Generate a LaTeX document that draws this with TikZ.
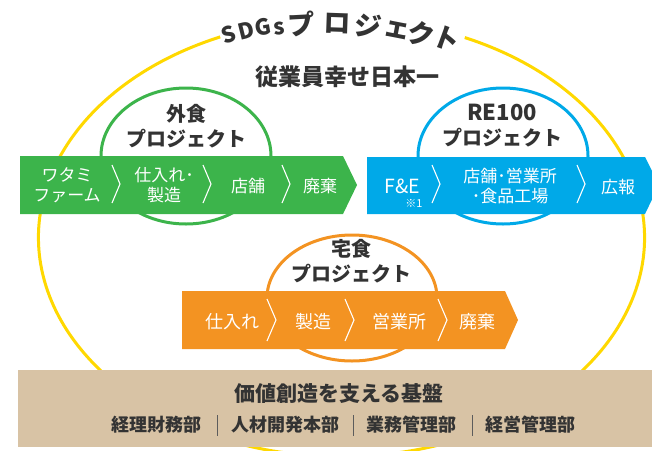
\documentclass[tikz,border=0pt]{standalone}
\usepackage{fontspec}
\setmainfont{Noto Sans CJK JP}
\usetikzlibrary{shapes.geometric}
\definecolor{ringyellow}{HTML}{FFD800}
\definecolor{gaigreen}{HTML}{3CB44B}
\definecolor{reblue}{HTML}{00A9E8}
\definecolor{takuorange}{HTML}{F39322}
\definecolor{basebeige}{HTML}{D8C3A5}
\definecolor{ink}{HTML}{333333}
\begin{document}
\begin{tikzpicture}[x=1pt,y=-1pt]
\tikzstyle{every node}+=[inner sep=0pt]
\tikzstyle{ring}=[ellipse, line width=3pt, fill=white, minimum width=170, minimum height=136]
\tikzstyle{heading}=[text=ink, align=center, font=\bfseries\fontsize{20}{25}\selectfont]
\tikzstyle{stage}=[text=white, align=center, font=\fontsize{17}{20}\selectfont]
\tikzstyle{chev}=[white, line width=1.1pt]
\useasboundingbox (0,0) rectangle (652,450);

% SDGs ring, open at the top for its title
\draw [ringyellow, line width=3pt] (341.5,237.6) ++(294:303 and 219)
  arc [start angle=294, end angle=606.4, x radius=303, y radius=219];
\foreach \ch/\px/\py/\rot/\sz [count=\i] in {S/229/35/18/22, D/246/31/14/22, G/263/27/10/22,
    s/279/29/7/22, プ/301/24/3/27, ロ/337/24/-2/27, ジ/368/26/-7/27, ェ/397/30/-11/27,
    ク/421/34/-15/27, ト/447/39/-20/27}
  \node [text=ink, rotate=\rot, font=\bfseries\fontsize{\sz}{\sz}\selectfont] (sdg\i) at (\px,\py) {\ch};

\node [text=ink, font=\bfseries\fontsize{23}{23}\selectfont] (slogan) at (347,77) {従業員幸せ日本一};

% project circles
\node [ring, draw=gaigreen] (gairing) at (186,156) {};
\node [ring, draw=reblue] (rering) at (503,156) {};
\node [ring, draw=takuorange, minimum height=126] (takuring) at (352,298) {};

\node [heading] (gaititle) at (186,126) {外食\\プロジェクト};
\node [heading] (retitle) at (502,126) {{\fontsize{22}{25}\selectfont RE100}\\プロジェクト};
\node [heading] (takutitle) at (351,261) {宅食\\プロジェクト};

% green flow
\fill [gaigreen] (20,156) -- (343,156) -- (357,185) -- (343,214) -- (20,214) -- cycle;
\foreach \cx in {112,203,282}
  \draw [chev] (\cx,165) -- (\cx+8,184) -- (\cx,203);
\node [stage] (gai1) at (67,185) {ワタミ\\ファーム};
\node [stage] (gai2) at (164,185) {仕入れ･\\製造};
\node [stage] (gai3) at (248,186) {店舗};
\node [stage] (gai4) at (320,186) {廃棄};

% blue flow
\fill [reblue] (367,157) -- (645,157) -- (659,185) -- (645,214) -- (367,214) -- cycle;
\foreach \cx in {432,577}
  \draw [chev] (\cx,165) -- (\cx+8,184) -- (\cx,203);
\node [stage, font=\fontsize{19.5}{20}\selectfont] (re1) at (402,186) {F\&E};
\node [text=white, font=\fontsize{11}{11}\selectfont] (re1note) at (414,203) {※1};
\node [stage] (re2) at (510,186) {店舗･営業所\\･食品工場};
\node [stage] (re3) at (618,187) {広報};

% orange flow
\fill [takuorange] (182,291) -- (505,291) -- (518,320) -- (505,349) -- (182,349) -- cycle;
\foreach \cx in {267,345,438}
  \draw [chev] (\cx,299) -- (\cx+9,320) -- (\cx,341);
\node [stage, font=\fontsize{18}{20}\selectfont] (taku1) at (232,322) {仕入れ};
\node [stage, font=\fontsize{18}{20}\selectfont] (taku2) at (313,322) {製造};
\node [stage, font=\fontsize{18}{20}\selectfont] (taku3) at (399,322) {営業所};
\node [stage, font=\fontsize{18}{20}\selectfont] (taku4) at (477,322) {廃棄};

% foundation
\fill [basebeige] (18,370) rectangle (660,447);
\node [text=ink, font=\bfseries\fontsize{21}{21}\selectfont] (basetitle) at (339,394) {価値創造を支える基盤};
\foreach \dept/\dx [count=\i] in {経理財務部/156, 人材開発本部/285, 業務管理部/411, 経営管理部/530}
  \node [text=ink, font=\bfseries\fontsize{18}{18}\selectfont] (dept\i) at (\dx,425) {\dept};
\foreach \sx in {217,353,472}
  \draw [ink!80, line width=0.8pt] (\sx,415) -- (\sx,436);
\end{tikzpicture}
\end{document}
